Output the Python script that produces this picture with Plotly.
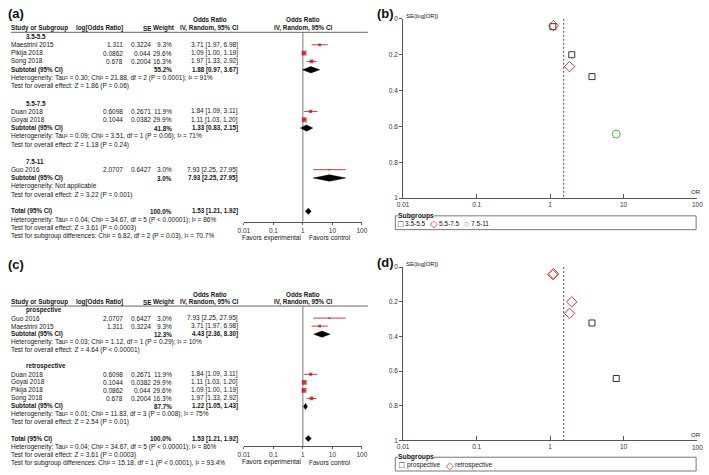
import plotly.graph_objects as go

W, H = 709, 475
FONT = "Liberation Sans, Arial, sans-serif"
FS = 6.5
HFS = 6.3
TXT = "#151515"

# ---------------- data ----------------
study_names = ["Guo 2016", "Maestrini 2015", "Duan 2018", "Goyal 2018", "Pikija 2018", "Song 2018"]
log_or = [2.0707, 1.311, 0.6098, 0.1044, 0.0862, 0.678]
se = [0.6427, 0.3224, 0.2671, 0.0382, 0.044, 0.2004]
weight = [3.0, 9.3, 11.9, 29.9, 29.6, 16.3]
or_est = [7.93, 3.71, 1.84, 1.11, 1.09, 1.97]
or_lo = [2.25, 1.97, 1.09, 1.03, 1.00, 1.33]
or_hi = [27.95, 6.98, 3.11, 1.20, 1.19, 2.92]
dose_group = ["7.5-11", "3.5-5.5", "5.5-7.5", "5.5-7.5", "3.5-5.5", "3.5-5.5"]
design_group = ["prospective", "prospective", "retrospective", "retrospective", "retrospective", "retrospective"]

a_groups = ["3.5-5.5", "5.5-7.5", "7.5-11"]
a_sub_weight = [55.2, 41.8, 3.0]
a_sub_or = [1.88, 1.33, 7.93]
a_sub_lo = [0.97, 0.83, 2.25]
a_sub_hi = [3.67, 2.15, 27.95]
a_het = ["Heterogeneity: Tau² = 0.30; Chi² = 21.88, df = 2 (P = 0.0001); I² = 91%",
         "Heterogeneity: Tau² = 0.09; Chi² = 3.51, df = 1 (P = 0.06); I² = 71%",
         "Heterogeneity: Not applicable"]
a_test = ["Test for overall effect: Z = 1.86 (P = 0.06)",
          "Test for overall effect: Z = 1.18 (P = 0.24)",
          "Test for overall effect: Z = 3.22 (P = 0.001)"]
a_subgroup_test = "Test for subgroup differences: Chi² = 6.82, df = 2 (P = 0.03), I² = 70.7%"

c_groups = ["prospective", "retrospective"]
c_sub_weight = [12.3, 87.7]
c_sub_or = [4.43, 1.22]
c_sub_lo = [2.36, 1.05]
c_sub_hi = [8.30, 1.43]
c_het = ["Heterogeneity: Tau² = 0.03; Chi² = 1.12, df = 1 (P = 0.29); I² = 10%",
         "Heterogeneity: Tau² = 0.01; Chi² = 11.83, df = 3 (P = 0.008); I² = 75%"]
c_test = ["Test for overall effect: Z = 4.64 (P < 0.00001)",
          "Test for overall effect: Z = 2.54 (P = 0.01)"]
c_subgroup_test = "Test for subgroup differences: Chi² = 15.18, df = 1 (P < 0.0001), I² = 93.4%"

total_weight = 100.0
total_or, total_lo, total_hi = 1.53, 1.21, 1.92
total_het = "Heterogeneity: Tau² = 0.04; Chi² = 34.67, df = 5 (P < 0.00001); I² = 86%"
total_test = "Test for overall effect: Z = 3.61 (P = 0.0003)"

or_ticks = [0.01, 0.1, 1, 10, 100]
or_tick_text = ["0.01", "0.1", "1", "10", "100"]
se_ticks = [0, 0.2, 0.4, 0.6, 0.8, 1]
se_tick_text = ["0", "0.2", "0.4", "0.6", "0.8", "1"]

# ---------------- layout constants ----------------
COL_NAME, COL_SUB, COL_LOG, COL_SE, COL_W, COL_CI = 5, 20, 119, 147, 169, 236
COL_OR_HDR = 208
FOREST_L, FOREST_R = 242, 362
FUN_L, FUN_R = 404, 703
SQ_COLOR = "#c00000"
CI_COLOR = "#b84545"
AX_COLOR = "#555555"

fig = go.Figure()
ann = []
shapes = []


def txt(x, y, s, anchor="left", bold=False, size=FS, color=TXT, bg=None):
    d = dict(x=x / W, y=y, xref="paper", yref="y", text=f"<b>{s}</b>" if bold else s,
             showarrow=False, xanchor=anchor, yanchor="middle", borderpad=0, borderwidth=0,
             font=dict(size=size, color=color, family=FONT))
    if bg:
        d["bgcolor"] = bg
    ann.append(d)


def forest(groups, group_of, sub_w, sub_or, sub_lo, sub_hi, het, test, sg_test,
           top, rh, xa, axis_y, label, label_y):
    def Y(k):
        return top + k * rh

    txt(2, label_y, label, bold=True, size=13, color="#111")
    # headers
    txt(COL_OR_HDR, Y(-1), "Odds Ratio", "center", True, HFS)
    txt((FOREST_L + FOREST_R) / 2, Y(-1), "Odds Ratio", "center", True, HFS)
    txt(COL_NAME, Y(0), "Study or Subgroup", bold=True, size=HFS)
    txt(COL_LOG, Y(0), "log[Odds Ratio]", "right", True, HFS)
    txt(COL_SE, Y(0), "SE", "right", True, HFS)
    txt(COL_W + 3, Y(0), "Weight", "right", True, HFS)
    txt(COL_CI, Y(0), "IV, Random, 95% CI", "right", True, HFS)
    txt((FOREST_L + FOREST_R) / 2, Y(0), "IV, Random, 95% CI", "center", True, HFS)
    line_y = Y(0.5)
    shapes.append(dict(type="line", xref="paper", yref="y", x0=5 / W, x1=368 / W,
                       y0=line_y, y1=line_y, line=dict(color="#666", width=1)))
    ci_x, ci_y, sq_x, sq_y, sq_s = [], [], [], [], []
    dia = []
    k = 1
    for gi, g in enumerate(groups):
        txt(COL_SUB, Y(k), g, bold=True, size=HFS)
        k += 1
        idx = sorted([i for i in range(len(study_names)) if group_of[i] == g],
                     key=lambda i: study_names[i])
        for i in idx:
            yy = Y(k)
            txt(COL_NAME, yy, study_names[i])
            txt(COL_LOG, yy, str(log_or[i]), "right")
            txt(COL_SE, yy, str(se[i]), "right")
            txt(COL_W, yy, f"{weight[i]:.1f}%", "right")
            txt(COL_CI, yy, f"{or_est[i]:.2f} [{or_lo[i]:.2f}, {or_hi[i]:.2f}]", "right")
            ci_x += [or_lo[i], or_hi[i], None]
            ci_y += [yy, yy, None]
            sq_x.append(or_est[i])
            sq_y.append(yy)
            sq_s.append(0.9 * weight[i] ** 0.5)
            k += 1
        yy = Y(k)
        txt(COL_NAME, yy, "Subtotal (95% CI)", bold=True, size=HFS)
        txt(COL_W, yy, f"{sub_w[gi]:.1f}%", "right", True, HFS)
        txt(COL_CI, yy, f"{sub_or[gi]:.2f} [{sub_lo[gi]:.2f}, {sub_hi[gi]:.2f}]", "right", True, HFS)
        dia.append((sub_lo[gi], sub_or[gi], sub_hi[gi], yy))
        k += 1
        txt(COL_NAME, Y(k), het[gi]); k += 1
        txt(COL_NAME, Y(k), test[gi]); k += 1
        k += 1
    yy = Y(k)
    txt(COL_NAME, yy, "Total (95% CI)", bold=True, size=HFS)
    txt(COL_W, yy, f"{total_weight:.1f}%", "right", True, HFS)
    txt(COL_CI, yy, f"{total_or:.2f} [{total_lo:.2f}, {total_hi:.2f}]", "right", True, HFS)
    dia.append((total_lo, total_or, total_hi, yy))
    k += 1
    txt(COL_NAME, Y(k), total_het); k += 1
    txt(COL_NAME, Y(k), total_test); k += 1
    txt(COL_NAME, Y(k), sg_test)

    # OR = 1 reference line
    fig.add_trace(go.Scatter(x=[1, 1], y=[line_y, axis_y], mode="lines", xaxis=xa, yaxis="y",
                             line=dict(color="#7a7a7a", width=1), hoverinfo="skip"))
    fig.add_trace(go.Scatter(x=ci_x, y=ci_y, mode="lines", xaxis=xa, yaxis="y",
                             line=dict(color=CI_COLOR, width=1), hoverinfo="skip"))
    fig.add_trace(go.Scatter(x=sq_x, y=sq_y, mode="markers", xaxis=xa, yaxis="y",
                             marker=dict(symbol="square", color=SQ_COLOR, size=sq_s, line=dict(width=0)),
                             hoverinfo="skip"))
    hh = 0.38 * rh
    for lo, est, hi, yy in dia:
        fig.add_trace(go.Scatter(x=[lo, est, hi, est, lo], y=[yy, yy - hh, yy, yy + hh, yy],
                                 mode="lines", fill="toself", fillcolor="black", xaxis=xa, yaxis="y",
                                 line=dict(color="black", width=0.5), hoverinfo="skip"))
    txt(270, axis_y + 16, "Favors experimental", "center")
    txt(330, axis_y + 16, "Favors control", "center")


forest(a_groups, dose_group, a_sub_weight, a_sub_or, a_sub_lo, a_sub_hi, a_het, a_test,
       a_subgroup_test, 24.5, 8.45, "x", 221, "(a)", 10)
forest(c_groups, design_group, c_sub_weight, c_sub_or, c_sub_lo, c_sub_hi, c_het, c_test,
       c_subgroup_test, 302.5, 8.15, "x2", 449, "(c)", 264)


# ---------------- funnel plots ----------------
def funnel(group_of, groups, styles, xa, ya, y_top, y_bot, label, leg_y, leg_items):
    txt(377, y_top - 5, label, bold=True, size=13, color="#111")
    txt(407, y_top - 3, "SE(log[OR])", size=6)
    txt(697, y_bot - 6, "OR", size=6)
    # last tick label sits at the page edge; drawn as text so it is not auto-hidden
    txt(FUN_R, y_bot + 7, or_tick_text[-1], "center", color="#333")
    fig.add_trace(go.Scatter(x=[total_or, total_or], y=[0, 1], mode="lines", xaxis=xa, yaxis=ya,
                             line=dict(color="#3a3ab0", width=1, dash="2px,2px"), hoverinfo="skip"))
    for g, (sym, col, sz) in zip(groups, styles):
        idx = [i for i in range(len(study_names)) if group_of[i] == g]
        fig.add_trace(go.Scatter(x=[or_est[i] for i in idx], y=[se[i] for i in idx], mode="markers",
                                 xaxis=xa, yaxis=ya, hoverinfo="skip", cliponaxis=False,
                                 marker=dict(symbol=sym, size=sz, color=col,
                                             line=dict(color=col, width=1))))
    # legend box
    shapes.append(dict(type="rect", xref="paper", yref="y", x0=396 / W, x1=702 / W,
                       y0=leg_y - 7, y1=leg_y + 7, line=dict(color="#777", width=1)))
    txt(399, leg_y - 7, "Subgroups", bold=True, bg="white", size=6.8)
    for (gx, glyph, gcol, gsz, tx, ttxt) in leg_items:
        txt(gx, leg_y + 1, glyph, "center", size=gsz, color=gcol)
        txt(tx, leg_y + 1, ttxt)


axis_common = dict(showgrid=False, zeroline=False, fixedrange=True, linecolor=AX_COLOR,
                   linewidth=1, tickcolor=AX_COLOR, ticklabeloverflow="allow",
                   tickfont=dict(size=FS, color="#333", family=FONT))
fun_tick_text = or_tick_text[:-1] + [""]

funnel(dose_group, a_groups,
       [("square-open", "#333333", 6), ("diamond-open", "#d03838", 8), ("circle-open", "#44c044", 8)],
       "x3", "y2", 15, 197, "(b)", 222,
       [(402, "□", "#222", 9, 406, "3.5-5.5"), (435, "◇", "#d03838", 10, 440, "5.5-7.5"),
        (468, "○", "#44c044", 9, 473, "7.5-11")])
funnel(design_group, c_groups,
       [("square-open", "#333333", 6), ("diamond-open", "#d03838", 8)],
       "x4", "y3", 267, 443, "(d)", 467,
       [(403, "□", "#222", 9, 408, "prospective"), (452, "◇", "#d03838", 10, 457, "retrospective")])

fig.update_layout(
    width=W, height=H, margin=dict(l=0, r=0, t=0, b=0), showlegend=False,
    paper_bgcolor="white", plot_bgcolor="rgba(0,0,0,0)",
    yaxis=dict(domain=[0, 1], range=[H, 0], visible=False, fixedrange=True),
    xaxis=dict(type="log", range=[-2, 2], domain=[FOREST_L / W, FOREST_R / W], anchor="free",
               position=1 - 221 / H, showline=True, ticks="outside", ticklen=2,
               tickvals=or_ticks, ticktext=or_tick_text, **axis_common),
    xaxis2=dict(type="log", range=[-2, 2], domain=[FOREST_L / W, FOREST_R / W], anchor="free",
                position=1 - 449 / H, showline=True, ticks="outside", ticklen=2,
                tickvals=or_ticks, ticktext=or_tick_text, **axis_common),
    xaxis3=dict(type="log", range=[-2, 2], domain=[FUN_L / W, FUN_R / W], anchor="y2", showline=True,
                ticks="inside", ticklen=4, tickvals=or_ticks, ticktext=fun_tick_text, **axis_common),
    yaxis2=dict(range=[1, 0], domain=[1 - 197 / H, 1 - 15 / H], anchor="x3", showline=True,
                ticks="outside", ticklen=3, tickvals=se_ticks, ticktext=se_tick_text, **axis_common),
    xaxis4=dict(type="log", range=[-2, 2], domain=[FUN_L / W, FUN_R / W], anchor="y3", showline=True,
                ticks="inside", ticklen=4, tickvals=or_ticks, ticktext=fun_tick_text, **axis_common),
    yaxis3=dict(range=[1, 0], domain=[1 - 443 / H, 1 - 267 / H], anchor="x4", showline=True,
                ticks="outside", ticklen=3, tickvals=se_ticks, ticktext=se_tick_text, **axis_common),
    annotations=ann, shapes=shapes,
)

fig.write_html("out.html", config={"displayModeBar": False},
               post_script="document.body.style.margin='0';document.body.style.overflow='hidden';")
